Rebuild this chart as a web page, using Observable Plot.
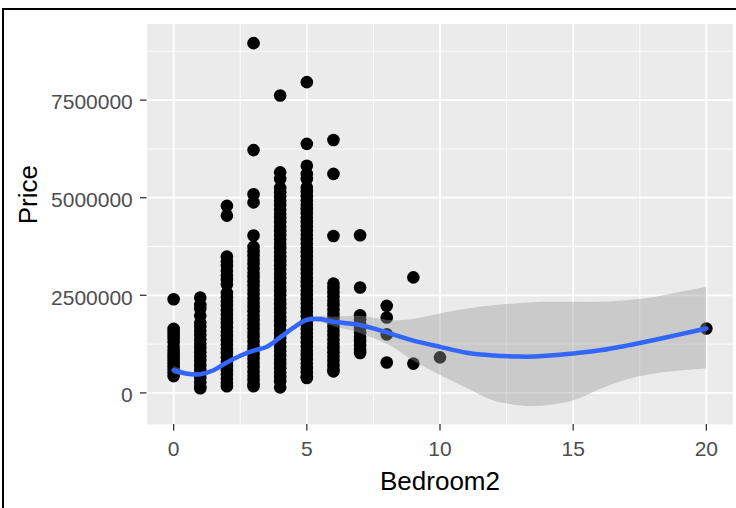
<!DOCTYPE html>
<html>
<head>
<meta charset="utf-8">
<script src="https://cdn.jsdelivr.net/npm/d3@7"></script>
<script src="https://cdn.jsdelivr.net/npm/@observablehq/plot@0.6"></script>
<style>
  html, body { margin: 0; padding: 0; background: #fff; }
  #wrap { position: relative; width: 736px; height: 508px; overflow: hidden; }
  #wrap svg { position: absolute; left: 0; top: 0; }
  #border { position: absolute; left: 2px; top: 8px; width: 760px; height: 540px; border: 2px solid #000; box-sizing: border-box; pointer-events: none; }
</style>
</head>
<body>
<div id="wrap"><div id="border"></div></div>
<script>
// Prices (in thousands) per number of bedrooms
const bed0 = [2400, 1640, 1560, 1480, 1400, 1300, 1180, 1090, 1000, 920, 840, 760, 680, 600, 520, 430];
const bed1 = [2440, 2250, 2160, 1980, 1800, 1700, 1590, 1480, 1370, 1260, 1150, 1040, 930, 820, 710, 600, 490, 380, 270, 160, 120];
const bed2 = [4790, 4540, 3490, 3370, 3250, 3130, 3010, 2890, 2780, 2560, 2450, 2340, 2230, 2120, 2010, 1900, 1790, 1680, 1570, 1460, 1350, 1240, 1130, 1020, 910, 800, 690, 580, 470, 360, 250, 170];
const bed3 = [8960, 6220, 5090, 4880, 4030, 3740, 3630, 3520, 3410, 3300, 3190, 3080, 2970, 2860, 2750, 2640, 2530, 2420, 2310, 2200, 2090, 1980, 1870, 1760, 1650, 1540, 1430, 1320, 1210, 1100, 990, 880, 770, 660, 550, 440, 330, 220, 170];
const bed4 = [7620, 5650, 5480, 5250, 5140, 5030, 4920, 4810, 4700, 4590, 4480, 4370, 4260, 4150, 4040, 3930, 3820, 3710, 3600, 3490, 3380, 3270, 3160, 3050, 2940, 2830, 2720, 2610, 2500, 2390, 2280, 2170, 2060, 1950, 1840, 1730, 1620, 1510, 1400, 1290, 1180, 1070, 960, 850, 740, 630, 520, 410, 300, 140];
const bed5 = [7960, 6380, 5820, 5610, 5480, 5260, 5150, 5040, 4930, 4820, 4710, 4600, 4490, 4380, 4270, 4160, 4050, 3940, 3830, 3720, 3610, 3500, 3390, 3280, 3170, 3060, 2950, 2840, 2730, 2620, 2510, 2400, 2290, 2180, 2070, 1960, 1850, 1740, 1630, 1520, 1410, 1300, 1190, 1080, 970, 860, 750, 640, 530, 420, 380];
const bed6 = [6480, 5610, 4020, 2800, 2690, 2580, 2470, 2360, 2250, 2140, 2030, 1920, 1810, 1700, 1590, 1480, 1370, 1260, 1150, 1040, 930, 820, 710, 600, 550];
const bed7 = [4040, 2700, 1990, 1880, 1770, 1660, 1550, 1440, 1330, 1220, 1110, 1020];
const bed8 = [2230, 1930, 1500, 780];
const bed9 = [2960, 750];
const bed10 = [910];
const bed20 = [1650];

// Loess smooth (in millions): x, fitted value, lower and upper band
const smoothX  = [0, 0.5, 1, 1.5, 2, 2.5, 3, 3.5, 4, 4.5, 5, 5.5, 6, 7, 8, 8.5, 9, 10, 11, 12, 13, 13.5, 14, 15, 16, 17, 18, 19, 20];
const smoothFit = [0.58, 0.49, 0.48, 0.58, 0.78, 0.95, 1.08, 1.18, 1.42, 1.67, 1.87, 1.89, 1.82, 1.74, 1.55, 1.44, 1.34, 1.18, 1.03, 0.96, 0.93, 0.93, 0.95, 1.01, 1.09, 1.21, 1.35, 1.50, 1.65];
const smoothLo = [0.48, 0.43, 0.44, 0.55, 0.75, 0.92, 1.05, 1.15, 1.39, 1.63, 1.82, 1.80, 1.70, 1.52, 1.25, 1.05, 0.82, 0.45, 0.12, -0.20, -0.33, -0.35, -0.33, -0.21, 0.08, 0.33, 0.48, 0.56, 0.61];
const smoothHi = [0.68, 0.55, 0.52, 0.61, 0.81, 0.98, 1.11, 1.21, 1.45, 1.71, 1.92, 1.96, 1.94, 1.96, 1.86, 1.85, 1.88, 2.02, 2.14, 2.23, 2.29, 2.31, 2.32, 2.32, 2.32, 2.36, 2.44, 2.57, 2.70];

const xTicks = [0, 5, 10, 15, 20];
const xMinor = [2.5, 7.5, 12.5, 17.5];
const yTicks = [0, 2500000, 5000000, 7500000];
const yMinor = [1250000, 3750000, 6250000, 8750000];

const columns = [[0, bed0], [1, bed1], [2, bed2], [3, bed3], [4, bed4], [5, bed5], [6, bed6], [7, bed7], [8, bed8], [9, bed9], [10, bed10], [20, bed20]];
const points = columns.flatMap(([b, arr]) => arr.map(v => ({bed: b, price: v * 1000})));
const smooth = smoothX.map((x, i) => ({x, fit: smoothFit[i] * 1e6, lo: smoothLo[i] * 1e6, hi: smoothHi[i] * 1e6}));

const font = "'Liberation Sans', Arial, sans-serif";
const chart = Plot.plot({
  width: 736,
  height: 508,
  marginLeft: 146.5,
  marginRight: 3.5,
  marginTop: 23.5,
  marginBottom: 84,
  style: {fontFamily: font, background: "transparent", overflow: "visible"},
  x: {domain: [-1, 21], label: null},
  y: {domain: [-810000, 9450000], label: null},
  marks: [
    Plot.frame({fill: "#EBEBEB", stroke: null}),
    Plot.gridX(xMinor, {stroke: "white", strokeOpacity: 1, strokeWidth: 0.9}),
    Plot.gridY(yMinor, {stroke: "white", strokeOpacity: 1, strokeWidth: 0.9}),
    Plot.gridX(xTicks, {stroke: "white", strokeOpacity: 1, strokeWidth: 1.8}),
    Plot.gridY(yTicks, {stroke: "white", strokeOpacity: 1, strokeWidth: 1.8}),
    Plot.dot(points, {x: "bed", y: "price", r: 6.3, fill: "black", stroke: null}),
    Plot.areaY(smooth, {x: "x", y1: "lo", y2: "hi", fill: "#999999", fillOpacity: 0.4, curve: "catmull-rom"}),
    Plot.line(smooth, {x: "x", y: "fit", stroke: "#3366FF", strokeWidth: 4.5, curve: "catmull-rom"}),
    Plot.axisX(xTicks, {tickSize: 6.6, tickFormat: () => "", stroke: "#333333", strokeWidth: 1.3, label: null}),
    Plot.axisX(xTicks, {tickSize: 0, tickPadding: 16.6, fontSize: 21, color: "#4D4D4D", label: null}),
    Plot.axisY(yTicks, {tickSize: 6.6, tickFormat: () => "", stroke: "#333333", strokeWidth: 1.3, label: null}),
    Plot.axisY(yTicks, {tickSize: 0, tickPadding: 14.2, dy: 2.5, fontSize: 21, color: "#4D4D4D", tickFormat: d3.format("d"), label: null}),
    Plot.text(["Bedroom2"], {text: d => d, frameAnchor: "bottom", dy: 65, fontSize: 26, fill: "black"}),
    Plot.text(["Price"], {text: d => d, frameAnchor: "left", dx: -118.5, rotate: -90, fontSize: 26, fill: "black"})
  ]
});
document.getElementById("wrap").insertBefore(chart, document.getElementById("border"));
</script>
</body>
</html>
